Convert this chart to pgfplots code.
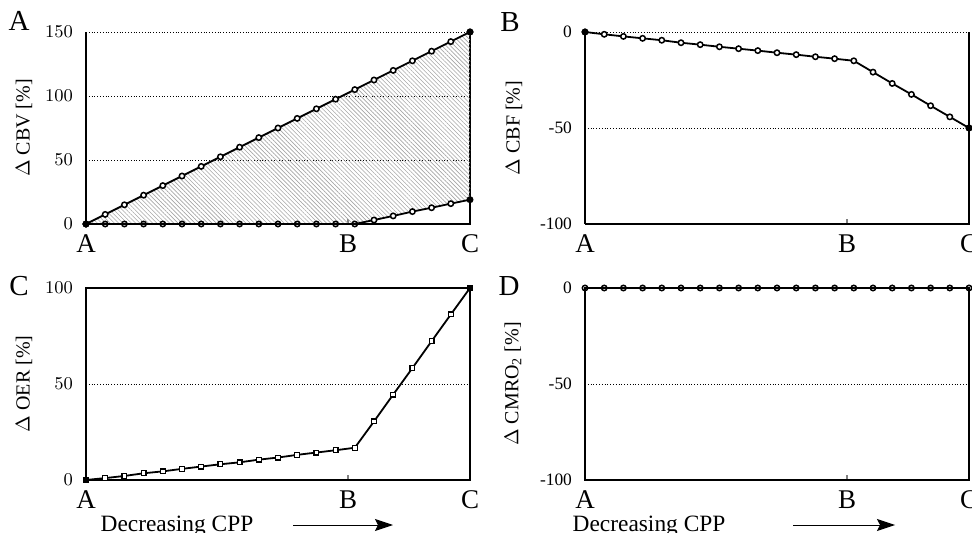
\documentclass[border=0pt]{standalone}
\usepackage{fontspec}
\setmainfont{Liberation Serif}
\usepackage{pgfplots}
\pgfplotsset{compat=1.18}
\usepackage{pgfplotstable}
\usepgfplotslibrary{fillbetween}
\usetikzlibrary{patterns.meta,arrows.meta}

% step along the CPP axis, then the four measures in percent
\pgfplotstableread{
i  cbvup  cbvlo  cbf    oer   cmro
0  0      0      0      0     0
1  7.5    0      -1.2   1.0   0
2  15     0      -2.3   2.1   0
3  22.5   0      -3.3   3.5   0
4  30     0      -4.3   4.5   0
5  37.5   0      -5.6   5.8   0
6  45     0      -6.6   7.0   0
7  52.5   0      -7.7   8.2   0
8  60     0      -8.7   9.2   0
9  67.5   0      -9.7   10.6  0
10 75     0      -10.8  11.7  0
11 82.5   0      -11.8  13.1  0
12 90     0      -12.9  14.3  0
13 97.5   0      -13.9  15.5  0
14 105    0      -15.0  16.8  0
15 112.5  3.1    -20.9  30.5  0
16 120    6.3    -26.8  44.5  0
17 127.5  9.7    -32.5  58.3  0
18 135    12.7   -38.4  72.3  0
19 142.5  15.9   -44.2  86.2  0
20 150    19.0   -50.0  100   0
}\data

\pgfplotsset{
  pan/.style={scale only axis, width=192pt, height=96pt,
    xmin=0, xmax=20, xtick={0,13.65,20}, xticklabels={A,B,C},
    xtick pos=bottom, tick align=inside, major tick length=2.5pt,
    ytick style={draw=none}, xtick style={line width=0.6pt},
    ymajorgrids, grid style={densely dotted, black, line width=0.45pt},
    axis line style={line width=0.9pt},
    xticklabel style={font=\fontsize{13.5}{14}\selectfont, yshift=-2pt},
    yticklabel style={font=\fontsize{8.7}{10}\selectfont, xshift=-3pt},
    ylabel style={font=\fontsize{10}{12}\selectfont, anchor=center},
    clip=false},
  cl/.style={black, line width=0.9pt},
  mk/.style={only marks, mark=*, mark size=1.35pt, mark options={line width=0.75pt, fill=#1}},
  mo/.style={only marks, mark=o, mark size=1.35pt, mark options={line width=0.75pt}},
}

\begin{document}
\begin{tikzpicture}
% A: blood volume
\begin{axis}[pan, at={(0,0)}, anchor=south west,
  axis x line*=bottom, axis y line*=box,
  ymin=0, ymax=150, ytick={0,50,100,150},
  ylabel={$\Delta$ CBV [\%]}, ylabel style={at={(axis description cs:-0.1615,0.5)}}]
\addplot[draw=none, name path=up] table[x=i, y=cbvup] {\data};
\addplot[draw=none, name path=lo] table[x=i, y=cbvlo] {\data};
\addplot[draw=none, pattern={Lines[angle=-45, distance=1.5pt, line width=0.3pt]}, pattern color=gray!70] fill between[of=up and lo];
\addplot[cl] table[x=i, y=cbvup] {\data};
\addplot[cl] table[x=i, y=cbvlo] {\data};
\addplot[mk=white] table[x=i, y=cbvup] {\data};
\addplot[mo, skip coords between index={15}{21}] table[x=i, y=cbvlo] {\data};
\addplot[mk=white, skip coords between index={0}{15}, skip coords between index={20}{21}] table[x=i, y=cbvlo] {\data};
\addplot[mk=black] coordinates {(0,0) (20,150) (20,19.0)};
\end{axis}

% B: blood flow
\begin{axis}[pan, at={(249.5pt,0)}, anchor=south west,
  axis x line*=bottom, axis y line*=box,
  ymin=-100, ymax=0, ytick={-100,-50,0}, yticklabels={-100,-50,0},
  ylabel={$\Delta$ CBF [\%]}, ylabel style={at={(axis description cs:-0.185,0.5)}}]
\addplot[cl] table[x=i, y=cbf] {\data};
\addplot[mk=white] table[x=i, y=cbf] {\data};
\addplot[mk=black] coordinates {(0,0) (20,-50)};
\end{axis}

% C: oxygen extraction
\begin{axis}[pan, at={(0,-128pt)}, anchor=south west,
  ymin=0, ymax=100, ytick={0,50,100},
  ylabel={$\Delta$ OER [\%]}, ylabel style={at={(axis description cs:-0.1615,0.5)}}]
\addplot[cl] table[x=i, y=oer] {\data};
\addplot[only marks, mark=square*, mark size=1.2pt, mark options={line width=0.6pt, fill=white}] table[x=i, y=oer] {\data};
\addplot[only marks, mark=square*, mark size=1.2pt, mark options={fill=black}] coordinates {(0,0) (20,100)};
\end{axis}

% D: oxygen metabolism
\begin{axis}[pan, at={(249.5pt,-128pt)}, anchor=south west,
  ymin=-100, ymax=0, ytick={-100,-50,0}, yticklabels={-100,-50,0},
  ylabel={$\Delta$ CMRO\textsubscript{2} [\%]}, ylabel style={at={(axis description cs:-0.1875,0.5)}}]
\addplot[cl] table[x=i, y=cmro] {\data};
\addplot[mo] table[x=i, y=cmro] {\data};
\end{axis}

\node[font=\fontsize{14.5}{16}\selectfont] at (-33.5pt,101.5pt) {A};
\node[font=\fontsize{14.5}{16}\selectfont] at (212pt,101pt) {B};
\node[font=\fontsize{14.5}{16}\selectfont] at (-33.5pt,-31pt) {C};
\node[font=\fontsize{14.5}{16}\selectfont] at (211.5pt,-31pt) {D};

\node[font=\fontsize{11.7}{13}\selectfont, anchor=base] at (45.5pt,-153.75pt) {Decreasing CPP};
\node[font=\fontsize{11.7}{13}\selectfont, anchor=base] at (281.5pt,-153.75pt) {Decreasing CPP};
\draw[line width=0.5pt, -{Stealth[length=9pt, width=6pt, inset=1.5pt]}] (103.5pt,-150.5pt) -- (153.5pt,-150.5pt);
\draw[line width=0.5pt, -{Stealth[length=9pt, width=6pt, inset=1.5pt]}] (353.5pt,-150.5pt) -- (404.5pt,-150.5pt);

\pgfresetboundingbox
\path[use as bounding box] (-43pt,112pt) rectangle (443pt,-154.5pt);
\end{tikzpicture}
\end{document}
